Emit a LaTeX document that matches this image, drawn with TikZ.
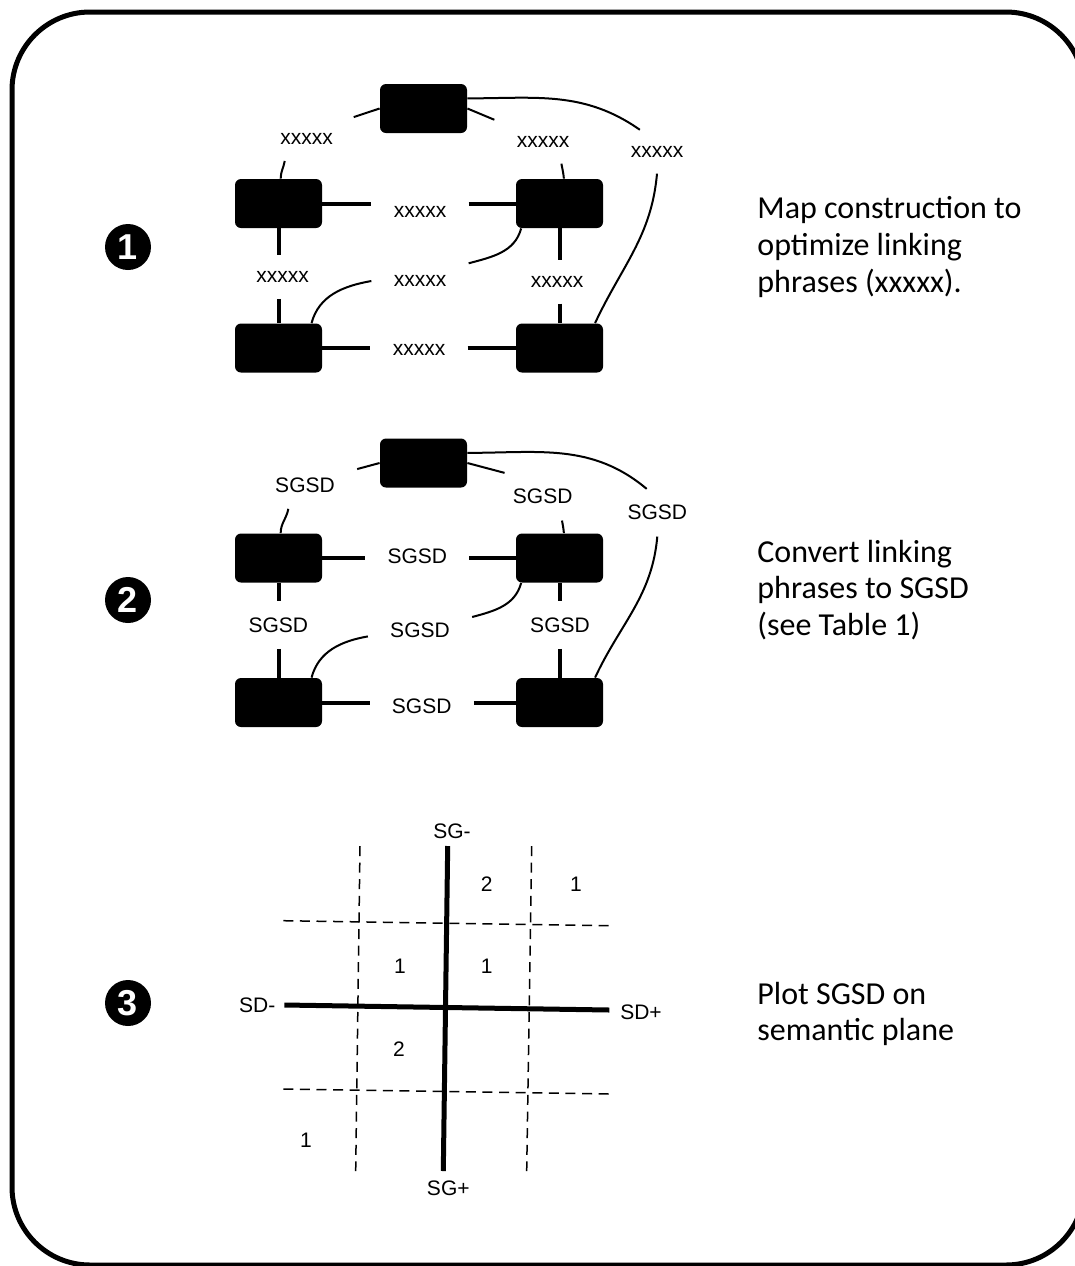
\documentclass[tikz,border=0pt]{standalone}
\usepackage{fontspec}
\setmainfont{Carlito}
\newfontfamily\labelfont{Liberation Sans}

\begin{document}
\begin{tikzpicture}[x=0.5pt,y=-0.5pt,
  box/.style={fill=black,rounded corners=3pt,minimum width=43.5pt,minimum height=24.5pt,inner sep=0pt},
  linklabel/.style={font=\labelfont\fontsize{10.5}{12}\selectfont,inner xsep=11pt,inner ysep=8pt},
  thicklink/.style={line width=2pt},
  thinlink/.style={line width=1pt},
  stepnum/.style={circle,fill=black,text=white,minimum size=23pt,inner sep=0pt,font=\labelfont\bfseries\fontsize{18}{18}\selectfont},
  desc/.style={anchor=west,align=left,inner sep=0pt,font=\fontsize{16}{18.4}\selectfont},
  axis/.style={line width=2.5pt},
  gridline/.style={line width=0.75pt,dash pattern=on 5pt off 3.3pt},
  planelabel/.style={font=\labelfont\fontsize{10.5}{12}\selectfont,inner sep=0pt}]
\useasboundingbox (0,0) rectangle (1075,1266);
\draw[line width=2.5pt,rounded corners=39pt] (12,12) rectangle (1084,1265);

\node[stepnum] (n1) at (128,247) {1};
\node[box] (t1) at (423.5,108.5) {};
\node[box] (l1) at (278.5,203.5) {};
\node[box] (r1) at (559.5,203.5) {};
\node[box] (bl1) at (278.5,348) {};
\node[box] (br1) at (559.5,348) {};
\node[linklabel] (la1) at (306.7,139) {xxxxx};
\node[linklabel] (lb1) at (543,141.7) {xxxxx};
\node[linklabel] (lc1) at (657,151.7) {xxxxx};
\node[linklabel] (ld1) at (420,212) {xxxxx};
\node[linklabel] (le1) at (282.7,277) {xxxxx};
\node[linklabel] (lf1) at (420,281) {xxxxx};
\node[linklabel] (lg1) at (557,281.7) {xxxxx};
\node[linklabel] (lh1) at (419,350) {xxxxx};
\draw[thinlink] (t1.west) -- (la1.25);
\draw[thinlink] (la1.225) to[out=-100,in=90] (l1.85);
\draw[thinlink] (t1.east) -- (lb1.north west);
\draw[thinlink] (lb1.-50) to[out=-80,in=95] (r1.80);
\draw[thinlink] (t1.13) to[out=0,in=145] (lc1.128);
\draw[thinlink] (lc1.south) to[out=-95,in=65] (br1.35);
\draw[thinlink] (r1.213) to[out=-105,in=15] (lf1.20);
\draw[thinlink] (lf1.west) to[out=190,in=75] (bl1.37);
\draw[thicklink] (l1.east) -- (l1.east -| ld1.west);
\draw[thicklink] (r1.west -| ld1.east) -- (r1.west);
\draw[thicklink] (l1.south) -- (l1.south |- le1.north);
\draw[thicklink] (bl1.north |- le1.south) -- (bl1.north);
\draw[thicklink] (r1.south) -- (r1.south |- lg1.north);
\draw[thicklink] (br1.north |- lg1.south) -- (br1.north);
\draw[thicklink] (bl1.east) -- (bl1.east -| lh1.west);
\draw[thicklink] (br1.west -| lh1.east) -- (br1.west);
\node[desc] (d1) at (757,247) {Map construction to\\optimize linking\\phrases (xxxxx).};

\node[stepnum] (n2) at (128,600) {2};
\node[box] (t2) at (423.5,463) {};
\node[box] (l2) at (278.5,558) {};
\node[box] (r2) at (559.5,558) {};
\node[box] (bl2) at (278.5,702.5) {};
\node[box] (br2) at (559.5,702.5) {};
\node[linklabel] (la2) at (305,485) {SGSD};
\node[linklabel] (lb2) at (542.7,496.7) {SGSD};
\node[linklabel] (lc2) at (657.3,512.7) {SGSD};
\node[linklabel] (ld2) at (417.3,556) {SGSD};
\node[linklabel] (le2) at (278.3,625) {SGSD};
\node[linklabel] (lf2) at (420,630) {SGSD};
\node[linklabel] (lg2) at (560,625) {SGSD};
\node[linklabel] (lh2) at (421.7,706) {SGSD};
\draw[thinlink] (t2.west) -- (la2.17);
\draw[thinlink] (la2.235) to[out=-100,in=90] (l2.85);
\draw[thinlink] (t2.east) -- (lb2.148);
\draw[thinlink] (lb2.-51) to[out=-80,in=95] (r2.80);
\draw[thinlink] (t2.13) to[out=0,in=140] (lc2.114);
\draw[thinlink] (lc2.south) to[out=-95,in=65] (br2.35);
\draw[thinlink] (r2.213) to[out=-105,in=15] (lf2.14);
\draw[thinlink] (lf2.187) to[out=190,in=75] (bl2.37);
\draw[thicklink] (l2.east) -- (l2.east -| ld2.west);
\draw[thicklink] (r2.west -| ld2.east) -- (r2.west);
\draw[thicklink] (l2.south) -- (l2.south |- le2.north);
\draw[thicklink] (bl2.north |- le2.south) -- (bl2.north);
\draw[thicklink] (r2.south) -- (r2.south |- lg2.north);
\draw[thicklink] (br2.north |- lg2.south) -- (br2.north);
\draw[thicklink] (bl2.east) -- (bl2.east -| lh2.west);
\draw[thicklink] (br2.west -| lh2.east) -- (br2.west);
\node[desc] (d2) at (757,590) {Convert linking\\phrases to SGSD\\(see Table 1)};

\node[stepnum] (n3) at (128,1003) {3};
\draw[gridline] (360,846) -- (355.7,1171);
\draw[gridline] (531.7,846) -- (526.7,1171);
\draw[gridline] (283.3,920.7) -- (609.3,925.7);
\draw[gridline] (283.3,1089) -- (609.3,1094);
\coordinate (sgtop) at (447.7,846);
\coordinate (sgbot) at (443.3,1171);
\coordinate (sdleft) at (284.3,1005);
\coordinate (sdright) at (609.3,1010);
\draw[axis] (sgtop) -- (sgbot);
\draw[axis] (sdleft) -- (sdright);
\node[planelabel] (sgminus) at (452,831.7) {SG-};
\node[planelabel] (sgplus) at (448.3,1188.3) {SG+};
\node[planelabel] (sdminus) at (257.3,1005) {SD-};
\node[planelabel] (sdplus) at (641,1012) {SD+};
\node[planelabel] (c1) at (486.7,884) {2};
\node[planelabel] (c2) at (576,884) {1};
\node[planelabel] (c3) at (400,966.7) {1};
\node[planelabel] (c4) at (486.7,966.7) {1};
\node[planelabel] (c5) at (399,1049.3) {2};
\node[planelabel] (c6) at (306,1140.7) {1};
\node[desc] (d3) at (757,1014) {Plot SGSD on\\semantic plane};
\end{tikzpicture}
\end{document}
